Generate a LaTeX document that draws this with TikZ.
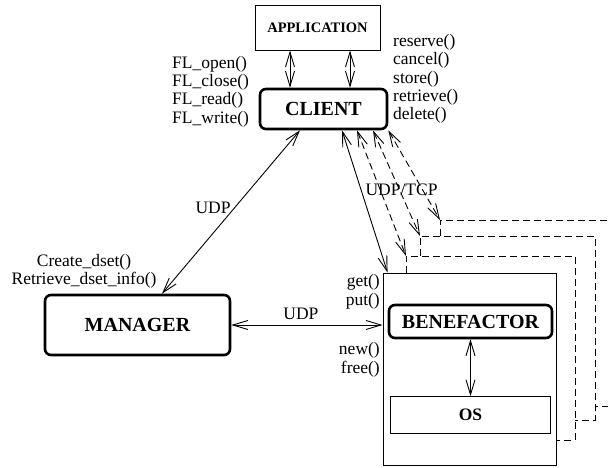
\documentclass[tikz,border=0pt]{standalone}
\usepackage{fontspec}
\setmainfont{Liberation Serif}
\usetikzlibrary{arrows.meta, positioning}
\tikzset{
    plainbox/.style={draw, line width=0.9pt, inner sep=0pt},
    roundbox/.style={draw, rounded corners=6pt, line width=2.6pt, inner sep=0pt,
                     font=\fontsize{20}{22}\selectfont\bfseries},
    call/.style={inner sep=0pt, font=\fontsize{17.5}{18.3}\selectfont},
    >={Straight Barb[length=15pt, width=9pt]},
    link/.style={<->, line width=0.9pt},
    copyline/.style={line width=0.9pt, dash pattern=on 7pt off 4pt}
}

\begin{document}
\begin{tikzpicture}[x=1pt, y=-1pt]
    \useasboundingbox (0,0) rectangle (608,468);

    \node[plainbox, minimum width=125pt, minimum height=45pt,
          font=\fontsize{14.5}{16}\selectfont\bfseries] (app) at (317.5,27.5) {APPLICATION};
    \node[roundbox, minimum width=127pt, minimum height=40pt] (cl)  at (323.5,109) {CLIENT};
    \node[roundbox, minimum width=185pt, minimum height=60pt] (mgr) at (137.5,325) {MANAGER};

    % benefactor host with its copies behind
    \node[plainbox, minimum width=173pt, minimum height=192pt] (host) at (469.5,369) {};
    \node[roundbox, minimum width=163pt, minimum height=33pt] (bf) at (470.5,321.5) {BENEFACTOR};
    \node[plainbox, minimum width=160pt, minimum height=37pt,
          font=\fontsize{17.5}{19}\selectfont\bfseries] (os) [below=57pt of bf] {OS};

    \coordinate (f1) at (406,256);
    \coordinate (f2) at (420,236);
    \coordinate (f3) at (440,220);
    \draw[copyline] (406,273) -- (f1) -- (575,256) -- (575,440) -- (556,440);
    \draw[copyline] (420,256) -- (f2) -- (595,236) -- (595,420) -- (575,420);
    \draw[copyline] (440,236) -- (f3) -- (616,220) -- (616,406) -- (595,406);

    % calls
    \node[call, align=left, anchor=west]  (flops)  at (172,91.4)  {FL\_open()\\FL\_close()\\FL\_read()\\FL\_write()};
    \node[call, align=left, anchor=west]  (dsops)  at (393,78.9)  {reserve()\\cancel()\\store()\\retrieve()\\delete()};
    \node[call, align=center]             (mgrops) at (84,271.4)  {Create\_dset()\\Retrieve\_dset\_info()};
    \node[call, align=right, anchor=east] (memops) at (380,291.9) {get()\\put()};
    \node[call, align=right, anchor=east] (osops)  at (380,359.9) {new()\\free()};
    \node[call] (proto) at (401.5,190) {UDP/TCP};

    \draw[link] ([xshift=-27.5pt]app.south) -- ([xshift=-27.5pt]app.south |- cl.north);
    \draw[link] ([xshift=32.5pt]app.south) -- ([xshift=32.5pt]app.south |- cl.north);
    \draw[link] ([xshift=-23.5pt]cl.south) -- ([xshift=24.5pt]mgr.north)
        node[call, midway, anchor=east, yshift=4pt] {UDP};
    \draw[link] (mgr.east) -- (mgr.east -| host.west)
        node[call, midway, above=5pt, xshift=-6pt] {UDP};
    \draw[link] (bf) -- (os);

    \draw[link] ([xshift=18.5pt]cl.south) -- ([xshift=5pt]host.north west);
    \draw[link, copyline] ([xshift=33.5pt]cl.south) -- (f1);
    \draw[link, copyline] ([xshift=49.5pt]cl.south) -- (f2);
    \draw[link, copyline] (cl.south east) -- (f3);
\end{tikzpicture}
\end{document}
